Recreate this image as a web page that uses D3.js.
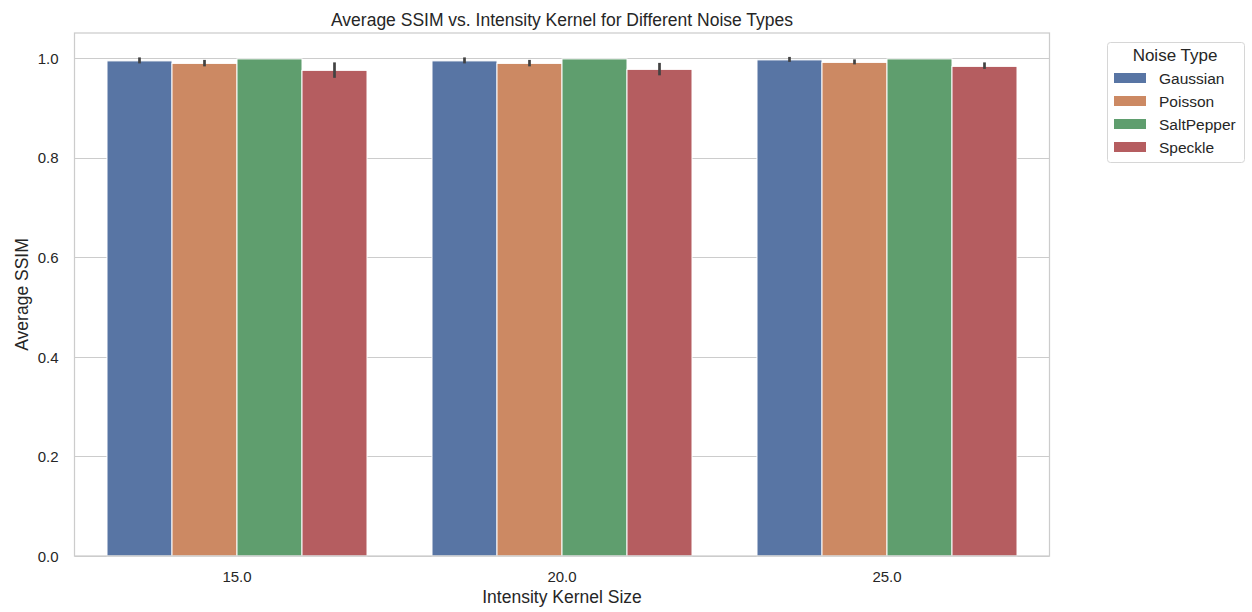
<!DOCTYPE html>
<html><head><meta charset="utf-8">
<script src="https://cdn.jsdelivr.net/npm/d3@7"></script>
<style>body{margin:0;background:#fff;} text{font-family:"Liberation Sans",Arial,sans-serif;fill:#262626;}</style>
</head><body>
<svg id="c" width="1252" height="612"></svg>
<script>
const categories = ["15.0", "20.0", "25.0"];
const noiseTypes = ["Gaussian", "Poisson", "SaltPepper", "Speckle"];
const colors = ["#5875a4", "#cc8963", "#5f9e6e", "#b55d60"];
const gaussian = [0.994, 0.994, 0.996];
const poisson = [0.989, 0.989, 0.991];
const saltPepper = [0.998, 0.998, 0.998];
const speckle = [0.975, 0.977, 0.983];
const gaussianLo = [0.991, 0.991, 0.994];
const gaussianHi = [0.999, 0.999, 1.000];
const poissonLo = [0.985, 0.985, 0.989];
const poissonHi = [0.994, 0.994, 0.995];
const saltPepperLo = [0.998, 0.998, 0.998];
const saltPepperHi = [0.998, 0.998, 0.998];
const speckleLo = [0.962, 0.967, 0.980];
const speckleHi = [0.989, 0.988, 0.989];
const yTicks = [0, 0.2, 0.4, 0.6, 0.8, 1.0];

const series = [
  {name: noiseTypes[0], vals: gaussian, lo: gaussianLo, hi: gaussianHi},
  {name: noiseTypes[1], vals: poisson, lo: poissonLo, hi: poissonHi},
  {name: noiseTypes[2], vals: saltPepper, lo: saltPepperLo, hi: saltPepperHi},
  {name: noiseTypes[3], vals: speckle, lo: speckleLo, hi: speckleHi}
];

const svg = d3.select("#c");
const L = 74.5, R = 1049.5, T = 33, B = 556;
const x0 = d3.scaleBand().domain(categories).range([L, R]);
const inner = d3.scaleBand().domain(noiseTypes).range([0, x0.bandwidth() * 0.8]);
const y = d3.scaleLinear().domain([0, 1.05]).range([B, T]);

// grid
svg.append("g").selectAll("line").data(yTicks).join("line")
  .attr("x1", L).attr("x2", R)
  .attr("y1", d => Math.round(y(d)) + 0.5).attr("y2", d => Math.round(y(d)) + 0.5)
  .attr("stroke", "#cccccc").attr("stroke-width", 1);

// bars
series.forEach((s, i) => {
  const g = svg.append("g");
  const cx = c => x0(c) + x0.bandwidth() * 0.1 + inner(s.name) + inner.bandwidth() / 2;
  g.selectAll("rect").data(categories).join("rect")
    .attr("x", c => x0(c) + x0.bandwidth() * 0.1 + inner(s.name))
    .attr("width", inner.bandwidth())
    .attr("y", (c, j) => y(s.vals[j]))
    .attr("height", (c, j) => B - y(s.vals[j]))
    .attr("fill", colors[i])
    .attr("stroke", "#ffffff").attr("stroke-width", 1);
  const ci = categories.map((c, j) => ({c, lo: s.lo[j], hi: s.hi[j]})).filter(d => d.hi > d.lo);
  g.selectAll("line").data(ci).join("line")
    .attr("x1", d => cx(d.c)).attr("x2", d => cx(d.c))
    .attr("y1", d => y(d.lo) + 1)
    .attr("y2", d => y(d.hi) - 1)
    .attr("stroke", "#424242").attr("stroke-width", 2.7).attr("stroke-linecap", "butt");
});

// frame
svg.append("rect").attr("x", L).attr("y", T).attr("width", R - L).attr("height", B - T)
  .attr("fill", "none").attr("stroke", "#cccccc").attr("stroke-width", 1.25);

// axes
const yAxis = d3.axisLeft(y).tickValues(yTicks).tickFormat(d3.format(".1f")).tickSize(0).tickPadding(16);
const ya = svg.append("g").attr("transform", `translate(${L},0)`).call(yAxis);
ya.select(".domain").remove();
ya.selectAll("text").style("font-size", "15px").attr("fill", "#262626").attr("dy", "0.35em");

const xAxis = d3.axisBottom(x0).tickSize(0).tickPadding(15);
const xa = svg.append("g").attr("transform", `translate(0,${B})`).call(xAxis);
xa.select(".domain").remove();
xa.selectAll("text").style("font-size", "15px").attr("fill", "#262626");

// labels
svg.append("text").attr("x", (L + R) / 2).attr("y", 26).attr("text-anchor", "middle")
  .style("font-size", "17.5px").text("Average SSIM vs. Intensity Kernel for Different Noise Types");
svg.append("text").attr("x", (L + R) / 2).attr("y", 603).attr("text-anchor", "middle")
  .style("font-size", "17.5px").text("Intensity Kernel Size");
svg.append("text").attr("transform", `translate(28,${(T + B) / 2}) rotate(-90)`).attr("text-anchor", "middle")
  .style("font-size", "17.5px").text("Average SSIM");

// legend
const lg = svg.append("g");
lg.append("rect").attr("x", 1107.5).attr("y", 42.5).attr("width", 137).attr("height", 120)
  .attr("rx", 3).attr("fill", "#fff").attr("stroke", "#d6d6d6").attr("stroke-width", 1);
lg.append("text").attr("x", 1175).attr("y", 61).attr("text-anchor", "middle").style("font-size", "17px").text("Noise Type");
noiseTypes.forEach((n, i) => {
  const cy = 78 + i * 23;
  lg.append("rect").attr("x", 1114).attr("y", cy - 5).attr("width", 32).attr("height", 10).attr("fill", colors[i]);
  lg.append("text").attr("x", 1159).attr("y", cy + 5.5).style("font-size", "15.5px").text(n);
});
</script>
</body></html>
